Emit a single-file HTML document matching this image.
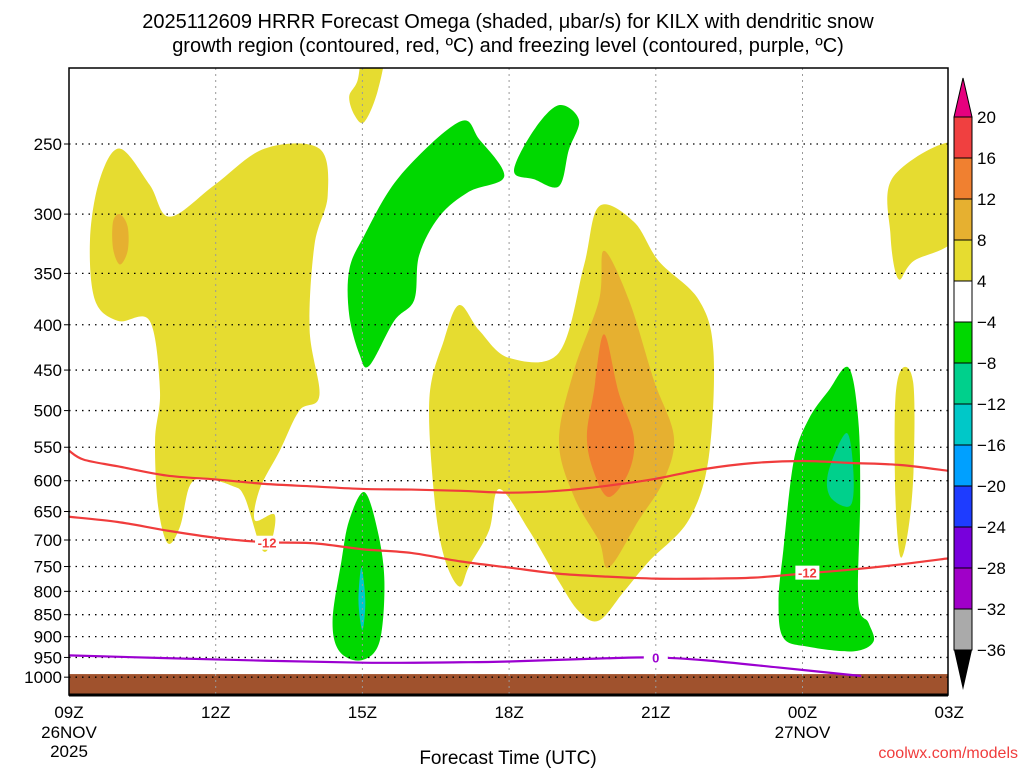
<!DOCTYPE html>
<html><head><meta charset="utf-8">
<style>
html,body{margin:0;padding:0;background:#fff;}
svg{display:block;font-family:"Liberation Sans",sans-serif;}
</style></head>
<body>
<svg id="chart" width="1024" height="768" viewBox="0 0 1024 768">
<defs><clipPath id="clip"><rect x="69" y="68" width="879" height="627"/></clipPath></defs>
<text x="508" y="28" text-anchor="middle" font-size="20">2025112609 HRRR Forecast Omega (shaded, μbar/s) for KILX with dendritic snow</text>
<text x="508" y="52" text-anchor="middle" font-size="20">growth region (contoured, red, ºC) and freezing level (contoured, purple, ºC)</text>
<g id="fills" clip-path="url(#clip)"></g>
<g id="grid"></g>
<g id="lines" clip-path="url(#clip)"></g>
<g id="axes"></g>
<g id="cbar"></g>
<text x="508" y="764" text-anchor="middle" font-size="19">Forecast Time (UTC)</text>
<text x="1018" y="758" text-anchor="end" font-size="16" fill="#f03c3c">coolwx.com/models</text>
</svg>
<script>
const pLevels=[250,300,350,400,450,500,550,600,650,700,750,800,850,900,950,1000];
const xTicks=["09Z","12Z","15Z","18Z","21Z","00Z","03Z"];
const xTickHours=[0,3,6,9,12,15,18];
const cbLevels=[20,16,12,8,4,-4,-8,-12,-16,-20,-24,-28,-32,-36];
const cbColors=["#f04040","#f08030","#e6b030","#e6dc30","#ffffff","#00d800","#00d08c","#00c8c8","#00a0ff","#1e3cff","#7800dc","#a000c8","#aaaaaa"];
// shaded omega regions: [hour since 09Z, pressure hPa]
const yellowLeft=[[1.04,253],[1.65,278],[2.06,302],[2.98,278],[4.0,253],[5.12,253],[5.29,286],[5.02,325],[4.92,405],[5.12,481],[4.71,500],[4.31,555],[3.9,613],[3.8,665],[4.2,655],[4.14,702],[3.94,717],[3.59,626],[3.33,608],[2.78,597],[2.47,608],[2.27,676],[2.02,706],[1.82,640],[1.76,540],[1.86,475],[1.65,396],[1.0,396],[0.53,375],[0.43,320],[0.63,274]];
const orangeLeft=[[1.04,300],[1.2,310],[1.2,330],[1.04,342],[0.9,328],[0.9,306]];
const yellowTop=[[6.04,195],[6.45,195],[6.31,218],[6.04,236],[5.84,232],[5.73,221],[5.9,212]];
const greenUpper=[[5.73,347],[6.04,317],[6.76,272],[7.98,236],[8.39,247],[8.9,272],[8.18,283],[7.57,302],[7.16,334],[7.06,375],[6.65,396],[6.14,445],[5.94,432],[5.73,390]];
const greenUpperRight=[[9.51,241],[10.02,226],[10.43,235],[10.22,254],[10.02,279],[9.51,274],[9.1,268]];
const yellowCenter=[[7.98,380],[8.39,406],[9.0,436],[10.02,430],[10.53,343],[10.84,294],[11.55,306],[12.06,339],[12.88,375],[13.18,430],[13.08,566],[12.67,665],[11.86,740],[11.35,800],[10.84,863],[10.43,843],[10.02,780],[9.41,683],[8.8,613],[8.59,683],[8.18,750],[7.98,790],[7.67,731],[7.47,626],[7.37,484],[7.67,416]];
const darkYellowCenter=[[10.94,330],[11.45,375],[11.96,462],[12.37,535],[12.16,600],[11.65,665],[11.04,752],[10.84,702],[10.33,626],[10.02,541],[10.33,450],[10.84,375]];
const orangeCenter=[[10.94,410],[11.24,477],[11.55,535],[11.45,586],[11.04,626],[10.73,586],[10.59,535],[10.73,477]];
const greenLowerLeft=[[6.04,618],[6.31,683],[6.45,780],[6.35,912],[5.98,957],[5.53,935],[5.39,863],[5.57,740],[5.73,665]];
const tealLowerLeft=[[5.98,752],[6.06,821],[6.0,885],[5.92,821]];
const greenRight=[[15.53,475],[15.94,447],[16.14,512],[16.18,626],[16.14,821],[16.35,868],[16.45,912],[16.04,935],[15.12,924],[14.61,903],[14.51,821],[14.61,717],[14.82,570],[15.12,512]];
const tealRight=[[15.9,530],[16.04,586],[15.98,640],[15.57,626],[15.53,586]];
const yellowThinRight=[[17.06,447],[17.27,468],[17.27,586],[17.16,683],[17.0,731],[16.9,626],[16.9,484]];
const yellowTopRight=[[16.86,272],[18.2,250],[18.2,315],[17.27,339],[16.96,355],[16.8,317]];
// contour lines
const redUpperHours=[0,0.3,1,2,3,4,5,6,7,8,9,10,11,12,13,14,15,16,17,18];
const redUpperP=[555,568,578,592,598,605,609,613,614,616,619,616,608,597,582,573,570,573,576,585];
const redLowerHours=[0,1,2,3,4,5,6,7,8,9,10,11,12,13,14,15,16,17,18];
const redLowerP=[659,668,683,696,704,706,717,724,740,752,764,770,774,774,772,764,756,746,734];
const purpleHours=[0,3,6,8,9,11,12,13,14.5,16.2];
const purpleP=[945,955,963,962,960,952,950,957,975,997];
const groundP=992;

const X0=69, XPH=48.9, Y0=144, YS=384.6;
const xs=h=>X0+h*XPH;
const ys=p=>Y0+Math.log(p/250)*YS;
const NS="http://www.w3.org/2000/svg";
function mk(tag,attrs,parent){const e=document.createElementNS(NS,tag);for(const k in attrs)e.setAttribute(k,attrs[k]);parent.appendChild(e);return e;}
function smoothPath(pts,closed){
  const P=pts.map(d=>[xs(d[0]),ys(d[1])]);const n=P.length;let s="M"+P[0][0]+","+P[0][1];
  const lim=closed?n:n-1;
  for(let i=0;i<lim;i++){
    const p0=P[(i-1+n)%n],p1=P[i],p2=P[(i+1)%n],p3=P[(i+2)%n];
    const a=(!closed&&i===0)?p1:p0, b=(!closed&&i+2>=n)?p2:p3;
    const c1=[p1[0]+(p2[0]-a[0])/6,p1[1]+(p2[1]-a[1])/6],c2=[p2[0]-(b[0]-p1[0])/6,p2[1]-(b[1]-p1[1])/6];
    s+=" C"+c1[0]+","+c1[1]+" "+c2[0]+","+c2[1]+" "+p2[0]+","+p2[1];
  }
  return s+(closed?"Z":"");
}
const fills=document.getElementById('fills');
const regions=[[yellowLeft,"#e6dc30","yellow-region-left"],[orangeLeft,"#e6b030","darkyellow-region-left"],[yellowTop,"#e6dc30","yellow-region-top"],[greenUpper,"#00d800","green-region-upper"],[greenUpperRight,"#00d800","green-region-upper-right"],[yellowCenter,"#e6dc30","yellow-region-center"],[darkYellowCenter,"#e6b030","darkyellow-region-center"],[orangeCenter,"#f08030","orange-region-center"],[greenLowerLeft,"#00d800","green-region-lower-left"],[tealLowerLeft,"#00c8c8","teal-region-lower-left"],[greenRight,"#00d800","green-region-right"],[tealRight,"#00d08c","teal-region-right"],[yellowThinRight,"#e6dc30","yellow-region-thin-right"],[yellowTopRight,"#e6dc30","yellow-region-top-right"]];
regions.forEach(r=>{const e=mk('path',{d:smoothPath(r[0],true),fill:r[1]},fills);

});
const gr=mk('rect',{x:69,y:ys(groundP),width:879,height:695-ys(groundP),fill:"#a0522d"},fills);



const grid=document.getElementById('grid');
pLevels.forEach(p=>{const l=mk('line',{x1:69,x2:948,y1:ys(p),y2:ys(p),stroke:"#000","stroke-width":1.3,"stroke-dasharray":"1.5,5"},grid);

});
xTickHours.forEach((h,i)=>{if(i===0||i===6)return;const l=mk('line',{x1:xs(h),x2:xs(h),y1:68,y2:695,stroke:"#999","stroke-width":1,"stroke-dasharray":"2,4"},grid);

});

const lines=document.getElementById('lines');
function line(hs,ps,color,name){const pts=hs.map((h,i)=>[h,ps[i]]);const e=mk('path',{d:smoothPath(pts,false),fill:"none",stroke:color,"stroke-width":2.2},lines);

}
line(redUpperHours,redUpperP,"#f03c3c","dgz-upper-contour");
line(redLowerHours,redLowerP,"#f03c3c","dgz-lower-contour");
line(purpleHours,purpleP,"#9b00d0","freezing-level-contour");
function lab(h,p,t,c,name){const bg=mk('rect',{x:xs(h)-12,y:ys(p)-7,width:24,height:14,fill:"#fff"},lines);


const e=mk('text',{x:xs(h),y:ys(p)+5,"text-anchor":"middle","font-size":13,"font-weight":"bold",fill:c},lines);e.textContent=t;

}
lab(4.05,705,"-12","#f03c3c","contour-label-left");
lab(15.1,762,"-12","#f03c3c","contour-label-right");
lab(12,950,"0","#9b00d0","freezing-label");

const axes=document.getElementById('axes');
const fr=mk('rect',{x:69,y:68,width:879,height:627,fill:"none",stroke:"#000","stroke-width":1.5},axes);


mk('line',{x1:69,x2:948,y1:695,y2:695,stroke:"#000","stroke-width":3},axes);
pLevels.forEach(p=>{const t=mk('text',{x:62,y:ys(p)+6,"text-anchor":"end","font-size":17},axes);t.textContent=p;


mk('line',{x1:64,x2:69,y1:ys(p),y2:ys(p),stroke:"#000"},axes);});
xTickHours.forEach((h,i)=>{const t=mk('text',{x:xs(h),y:718,"text-anchor":"middle","font-size":17},axes);t.textContent=xTicks[i];

});
[[0,"26NOV",738],[0,"2025",757],[15,"27NOV",738]].forEach(d=>{const t=mk('text',{x:xs(d[0]),y:d[2],"text-anchor":"middle","font-size":17},axes);t.textContent=d[1];

});

const cb=document.getElementById('cbar');
const CB0=117,CBS=41,cx=954,cw=18;
const cbTop=mk('polygon',{points:`${cx},${CB0} ${cx+cw},${CB0} ${cx+cw/2},78`,fill:"#e6007e",stroke:"#000"},cb);


cbColors.forEach((c,i)=>{const r=mk('rect',{x:cx,y:CB0+i*CBS,width:cw,height:CBS,fill:c,stroke:"#000"},cb);

});
const cbBot=mk('polygon',{points:`${cx},${CB0+13*CBS} ${cx+cw},${CB0+13*CBS} ${cx+cw/2},690`,fill:"#000"},cb);


cbLevels.forEach((v,i)=>{const t=mk('text',{x:977,y:CB0+i*CBS+6,"font-size":17},cb);t.textContent=(v<0?"−":"")+Math.abs(v);

});
</script>
</body></html>
